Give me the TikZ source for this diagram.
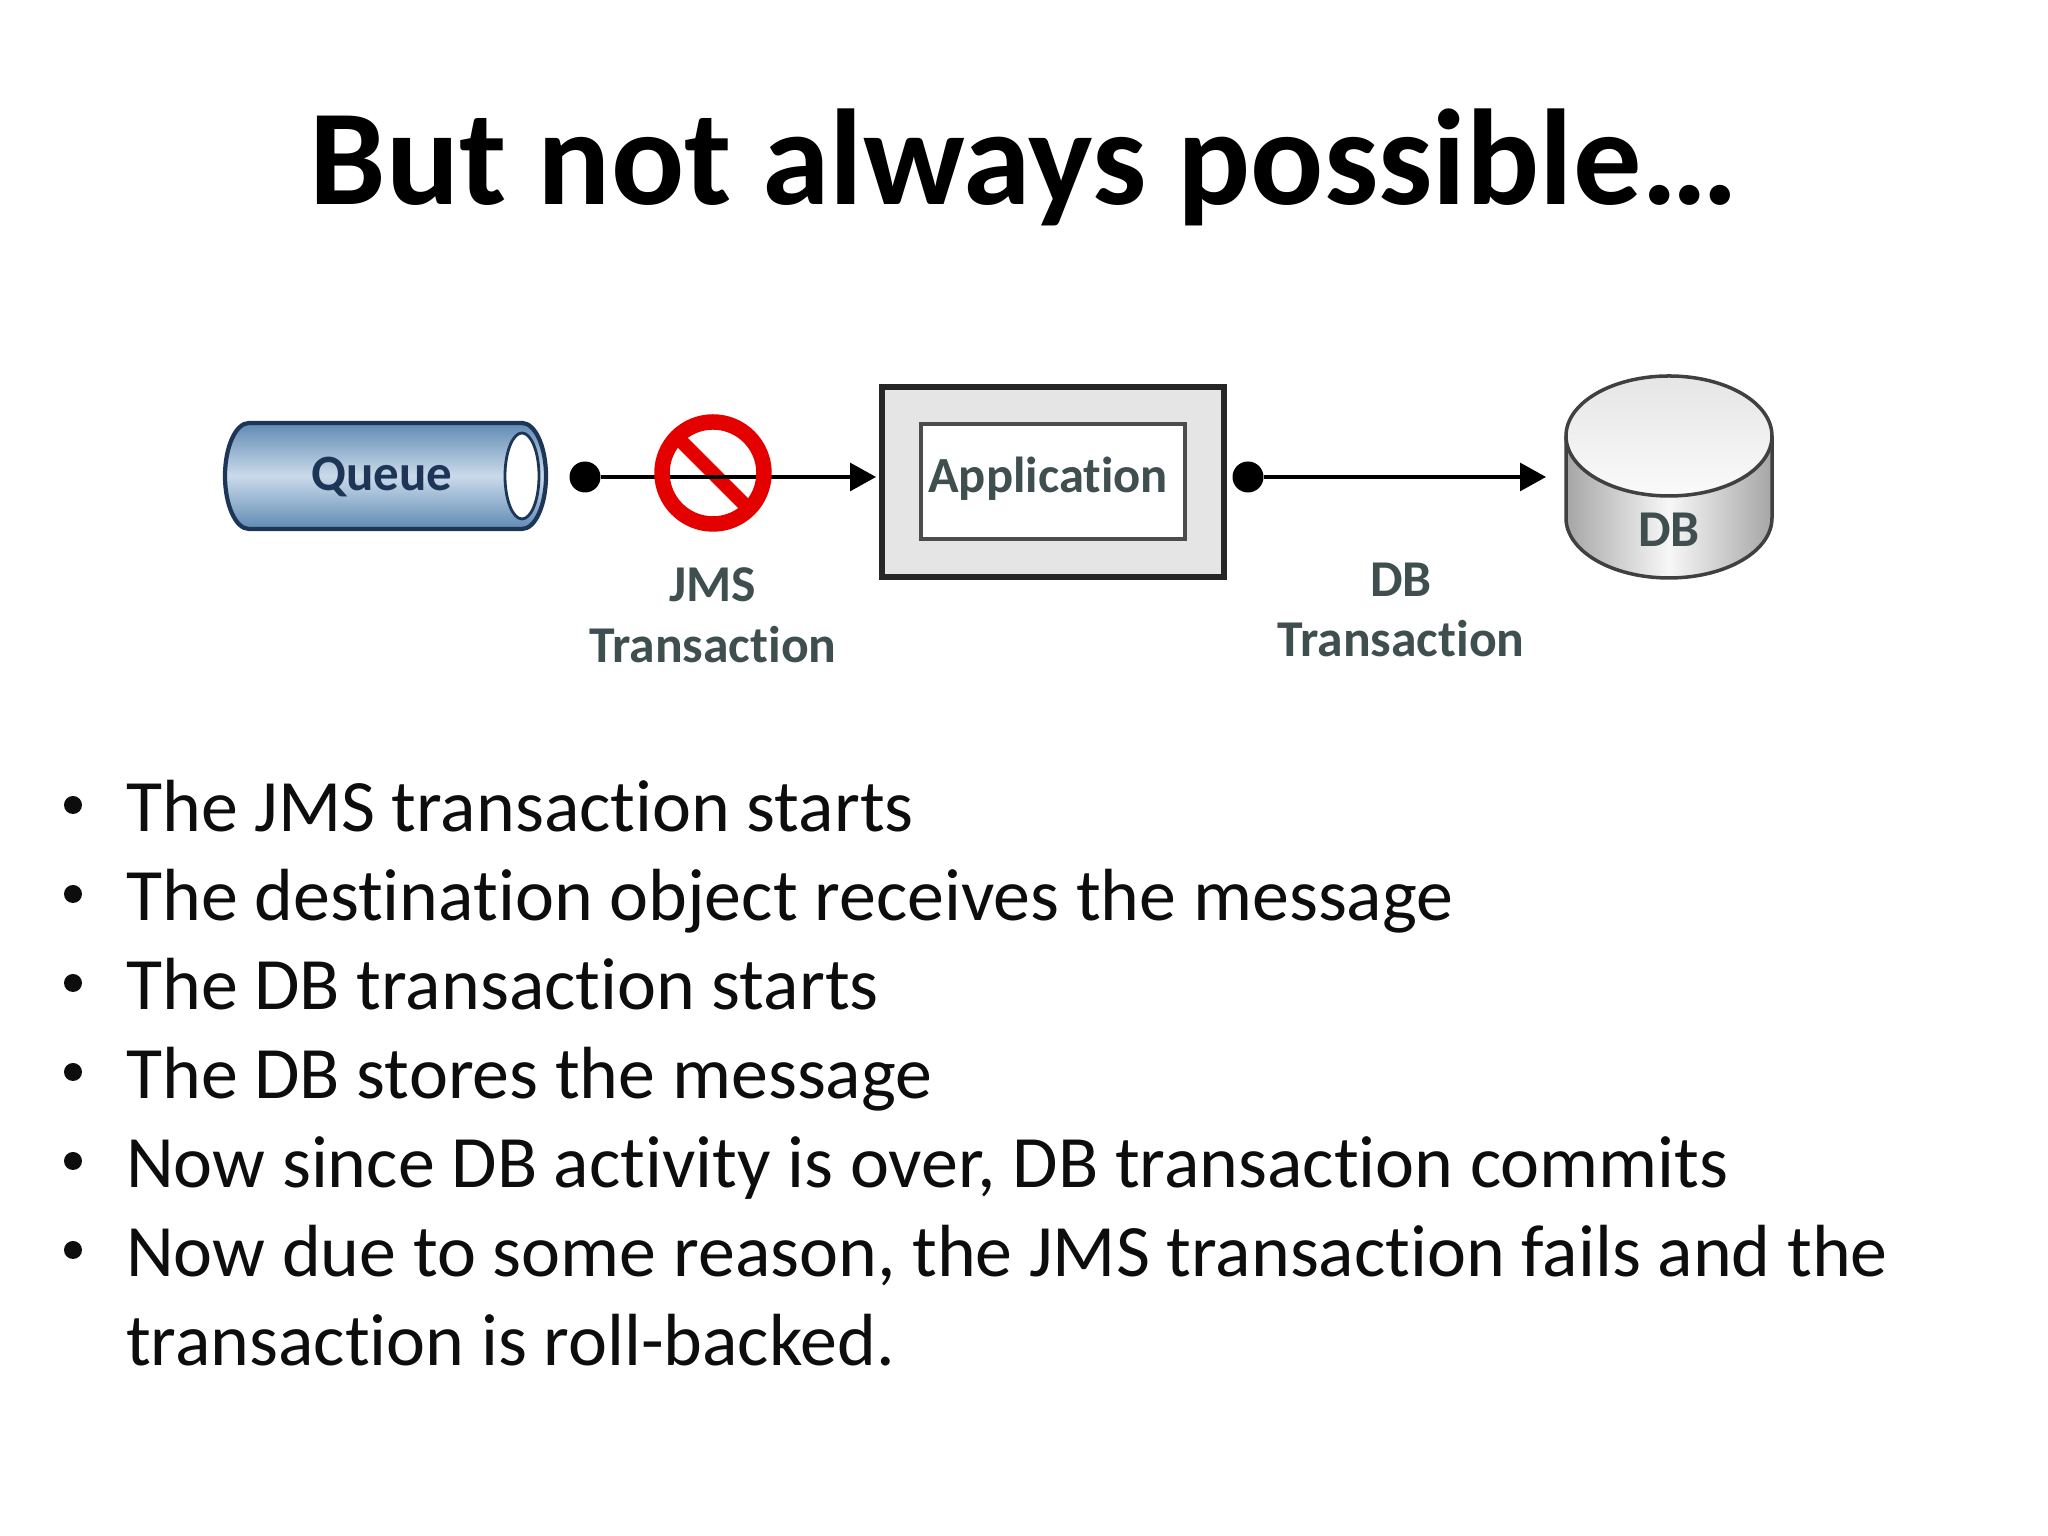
\documentclass[tikz,border=0pt]{standalone}
\usepackage{fontspec}
\setmainfont[Ligatures=NoCommon]{Carlito}
\usetikzlibrary{positioning, shapes.geometric, arrows.meta}
\definecolor{labelgray}{HTML}{3F4F50}
\definecolor{queueblue}{HTML}{1D3557}
\definecolor{queueside}{HTML}{5F8BB4}
\definecolor{queuelight}{HTML}{CBDAEA}
\tikzset{
    difflabel/.style={text=labelgray, font=\fontsize{14.7pt}{16pt}\selectfont\bfseries, inner sep=0pt},
    flow/.style={line width=0.9pt, -{Triangle[length=0.26cm,width=0.28cm]}},
    dot/.style={circle, fill=black, inner sep=0pt, minimum size=0.31cm},
    slidetext/.style={anchor=base west, inner sep=0pt, font=\fontsize{21.03pt}{24pt}\selectfont, text=black!95}
}
\begin{document}
\begin{tikzpicture}
    \useasboundingbox (0,0) rectangle (20.48,15.36);

    % Draw the title
    \node[font=\fontsize{38.8pt}{44pt}\selectfont\bfseries, anchor=base, inner sep=0pt] (title) at (10.24,13.31) {But not always possible…};

    % Draw the queue with its open end
    \draw[draw=queueblue, line width=1.2pt, top color=queueside, bottom color=queueside, middle color=queuelight]
        (5.22,11.13) -- (2.49,11.13) arc[start angle=90, end angle=270, x radius=0.24, y radius=0.53]
        -- (5.22,10.07) arc[start angle=-90, end angle=90, x radius=0.24, y radius=0.53] -- cycle;
    \node[ellipse, draw=queueblue, fill=white, line width=0.8pt, inner sep=0pt, minimum width=0.34cm, minimum height=0.86cm] (queueend) at (5.22,10.6) {};
    \node[text=queueblue, font=\fontsize{14.5pt}{16pt}\selectfont\bfseries, inner sep=0pt] (queue) at (3.82,10.59) {Queue};

    % Draw the application box
    \node[draw=black!85, fill=black!10, line width=1.6pt, minimum width=3.42cm, minimum height=1.9cm, inner sep=0pt] (appouter) at (10.53,10.54) {};
    \node[draw=black!70, fill=white, line width=1pt, minimum width=2.64cm, minimum height=1.15cm, inner sep=0pt] (appinner) at (10.53,10.545) {};
    \node[text=labelgray, font=\fontsize{14.4pt}{16pt}\selectfont\bfseries, inner sep=0pt] (app) at (10.48,10.57) {Application};

    % Draw the database
    \draw[draw=black!75, line width=1pt, left color=black!35, right color=black!35, middle color=black!3]
        (15.66,11) -- (15.66,10.18) arc[start angle=180, end angle=360, x radius=1.03, y radius=0.6] -- (17.72,11);
    \node[ellipse, draw=black!75, line width=1pt, top color=black!10, bottom color=black!2, inner sep=0pt, minimum width=2.06cm, minimum height=1.2cm] (dbtop) at (16.69,11) {};
    \node[difflabel] (db) at (16.69,10.06) {DB};

    % Draw the crossed bar below the connector
    \draw[red!90!black, line width=4pt] (7.13,10.63) +(135:0.52) -- +(-45:0.52);

    % Draw the connectors
    \node[dot] (dota) at (5.85,10.59) {};
    \node[dot] (dotb) at (12.48,10.59) {};
    \coordinate (appin) at (8.76,10.59);
    \coordinate (dbin) at (15.46,10.59);
    \draw[flow] (dota) -- (appin);
    \draw[flow] (dotb) -- (dbin);

    % Draw the forbidden ring over the connector
    \node[circle, draw=red!90!black, line width=4.4pt, inner sep=0pt, minimum size=1.02cm] (stop) at (7.13,10.63) {};

    % Draw the connector labels
    \node[difflabel, align=center] (jmslabel) at (7.13,9.21) {JMS \\[1.3pt] Transaction};
    \node[difflabel, align=center] (dbtrans) at (14.01,9.26) {DB \\[1.3pt] Transaction};

    % Draw the bullet list
    \foreach \i/\y/\txt in {1/7.04/The JMS transaction starts,
                            2/6.15/The destination object receives the message,
                            3/5.26/The DB transaction starts,
                            4/4.37/The DB stores the message,
                            5/3.48/{Now since DB activity is over, DB transaction commits},
                            6/2.59/{Now due to some reason, the JMS transaction fails and the}} {
        \node[slidetext] (item\i) at (1.255,\y) {\txt};
        \node[circle, fill=black!95, inner sep=0pt, minimum size=0.18cm] (bullet\i) at (0.73,\y+0.27) {};
    }
    \node[slidetext] (item7) at (1.255,1.7) {transaction is roll-backed.};
\end{tikzpicture}
\end{document}
